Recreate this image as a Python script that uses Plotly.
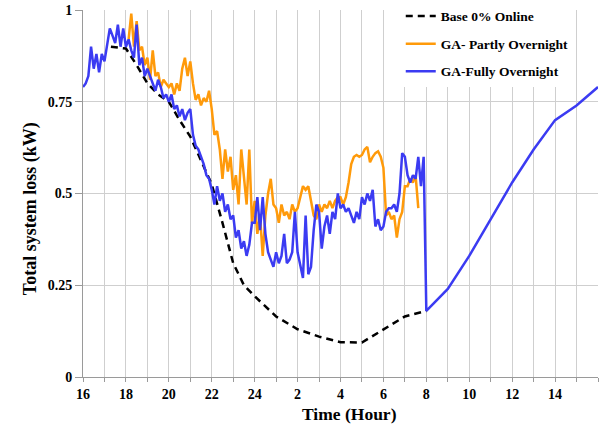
import plotly.graph_objects as go

# ---------------- data ----------------
series_names = ["Base 0% Online", "GA- Partly Overnight", "GA-Fully Overnight"]

# Base case (dashed), hours on a continuous 16..40 axis (24 = midnight, 32 = 8 am)
base_time = [17.3, 18.0, 18.5, 19.0, 19.5, 20.0, 20.5, 21.0, 21.5, 22.0, 22.5, 23.0,
             23.5, 24.0, 25.0, 26.0, 27.0, 28.0, 29.0, 30.0, 31.0, 32.0]
base_loss = [0.90, 0.895, 0.85, 0.80, 0.77, 0.75, 0.70, 0.655, 0.59, 0.525, 0.42, 0.31,
             0.25, 0.22, 0.165, 0.13, 0.11, 0.095, 0.094, 0.13, 0.165, 0.18]

sample_step_h = 0.125  # 7.5-minute samples for GA runs

# GA - Partly Overnight, first sample at 18.125 h
partly_start_h = 18.125
partly_loss = [
    0.92, 0.99, 0.90, 0.97, 0.89, 0.90, 0.85,
    0.87, 0.81, 0.89, 0.82, 0.83, 0.79, 0.81, 0.80,
    0.79, 0.80, 0.77, 0.80, 0.78, 0.84, 0.87, 0.82,
    0.86, 0.80, 0.755, 0.77, 0.74, 0.76, 0.75, 0.78,
    0.73, 0.66, 0.67, 0.62, 0.54, 0.62, 0.56, 0.60,
    0.51, 0.55, 0.47, 0.62, 0.55, 0.47, 0.62, 0.42,
    0.48, 0.39, 0.44, 0.33, 0.44, 0.50, 0.54, 0.47,
    0.46, 0.42, 0.47, 0.44, 0.45, 0.43, 0.47, 0.45,
    0.46, 0.49, 0.52, 0.51, 0.52, 0.48, 0.44, 0.43,
    0.47, 0.45, 0.47, 0.46, 0.48, 0.46, 0.48, 0.49,
    0.49, 0.47, 0.49, 0.53, 0.58, 0.60, 0.605, 0.60,
    0.605, 0.62, 0.627, 0.585, 0.60, 0.61, 0.615, 0.60,
    0.57, 0.44, 0.45, 0.43, 0.44, 0.38, 0.43, 0.45,
    0.52, 0.52, 0.54, 0.53, 0.55, 0.46,
]

# GA - Fully Overnight, night part from 16.0 h
fully_start_h = 16.0
fully_night_loss = [
    0.79, 0.80, 0.82, 0.90, 0.84, 0.88, 0.83, 0.88,
    0.86, 0.90, 0.95, 0.93, 0.91, 0.96, 0.90, 0.95,
    0.90, 0.92, 0.89, 0.87, 0.96, 0.85, 0.87, 0.82,
    0.84, 0.82, 0.80, 0.78, 0.81, 0.79, 0.76, 0.77,
    0.75, 0.77, 0.73, 0.74, 0.71, 0.73, 0.70, 0.72,
    0.73, 0.66, 0.63, 0.62, 0.60, 0.58, 0.55, 0.54,
    0.51, 0.47, 0.52, 0.48, 0.50, 0.45, 0.47, 0.43,
    0.44, 0.38, 0.40, 0.35, 0.37, 0.33, 0.36, 0.42,
    0.42, 0.49, 0.40, 0.49, 0.39, 0.34, 0.32, 0.30,
    0.34, 0.31, 0.33, 0.39, 0.31, 0.32, 0.34, 0.45,
    0.34, 0.30, 0.27, 0.44, 0.28, 0.30, 0.40, 0.47,
    0.45, 0.35, 0.41, 0.44, 0.39, 0.45, 0.43, 0.50,
    0.46, 0.47, 0.45, 0.46, 0.44, 0.42, 0.45, 0.43,
    0.49, 0.47, 0.50, 0.48, 0.51, 0.41, 0.43, 0.40,
    0.41, 0.45, 0.46, 0.46, 0.47, 0.45, 0.50, 0.61,
    0.60, 0.55, 0.53, 0.55, 0.54, 0.60, 0.52, 0.60,
]
# daytime part (hourly, 8 am .. 4 pm)
fully_day_time = [32, 33, 34, 35, 36, 37, 38, 39, 40]
fully_day_loss = [0.18, 0.24, 0.33, 0.43, 0.53, 0.62, 0.70, 0.74, 0.79]

x_tick_text = ["16", "18", "20", "22", "24", "2", "4", "6", "8", "10", "12", "14"]
y_tick_vals = [0, 0.25, 0.5, 0.75, 1]
y_tick_text = ["0", "0.25", "0.5", "0.75", "1"]

x_title = "Time (Hour)"
y_title = "Total system loss (kW)"

# ---------------- build ----------------
partly_time = [partly_start_h + i * sample_step_h for i in range(len(partly_loss))]
fully_time = [fully_start_h + i * sample_step_h for i in range(len(fully_night_loss))] + fully_day_time
fully_loss = fully_night_loss + fully_day_loss
x_tick_vals = [16 + 2 * i for i in range(len(x_tick_text))]

FONT = "Liberation Serif"
grid_col = "#cfcfcf"
axis_col = "#9a9a9a"

fig = go.Figure()
fig.add_trace(go.Scatter(x=base_time, y=base_loss, mode="lines", name=series_names[0],
                         line=dict(color="black", width=2.5, dash="7px,5px"),
                         legendgroup="a"))
fig.add_trace(go.Scatter(x=partly_time, y=partly_loss, mode="lines", name=series_names[1],
                         line=dict(color="#ff9a0a", width=2.5), legendgroup="b"))
fig.add_trace(go.Scatter(x=fully_time, y=fully_loss, mode="lines", name=series_names[2],
                         line=dict(color="#3b3bf2", width=2.5), legendgroup="c"))

fig.update_layout(
    width=606, height=425,
    margin=dict(l=83, r=8, t=10, b=48, autoexpand=False),
    plot_bgcolor="white", paper_bgcolor="white",
    font=dict(family=FONT, size=14, color="black", weight="bold"),
    showlegend=True,
    legend=dict(x=0.617, y=1.025, xanchor="left", yanchor="top",
                bgcolor="white", borderwidth=0, tracegroupgap=7,
                font=dict(family=FONT, size=13.5, color="black", weight="bold")),
)
fig.update_xaxes(
    range=[16, 40], tickmode="array", tickvals=x_tick_vals, ticktext=x_tick_text,
    showgrid=True, gridcolor=grid_col, gridwidth=1,
    ticks="outside", ticklen=4, tickcolor=axis_col,
    showline=True, linecolor=axis_col, linewidth=1, zeroline=False,
    minor=dict(dtick=1, tick0=16, showgrid=True, gridcolor=grid_col, gridwidth=1,
               ticks="outside", ticklen=4, tickcolor=axis_col),
    tickfont=dict(family=FONT, size=14, color="black", weight="bold"),
)
fig.update_yaxes(
    range=[0, 1], tickmode="array", tickvals=y_tick_vals, ticktext=y_tick_text,
    showgrid=True, gridcolor=grid_col, gridwidth=1,
    ticks="outside", ticklen=7, tickcolor=axis_col,
    showline=True, linecolor=axis_col, linewidth=1, zeroline=False,
    tickfont=dict(family=FONT, size=14, color="black", weight="bold"),
)
fig.add_annotation(text=x_title, xref="paper", yref="paper", x=0.518, y=-0.1,
                   xanchor="center", yanchor="middle", showarrow=False,
                   font=dict(family=FONT, size=17.5, color="black", weight="bold"))
fig.add_annotation(text=y_title, xref="paper", yref="paper", x=-0.103, y=0.46,
                   xanchor="center", yanchor="middle", showarrow=False, textangle=-90,
                   font=dict(family=FONT, size=18, color="black", weight="bold"))

fig.write_html("out.html")
